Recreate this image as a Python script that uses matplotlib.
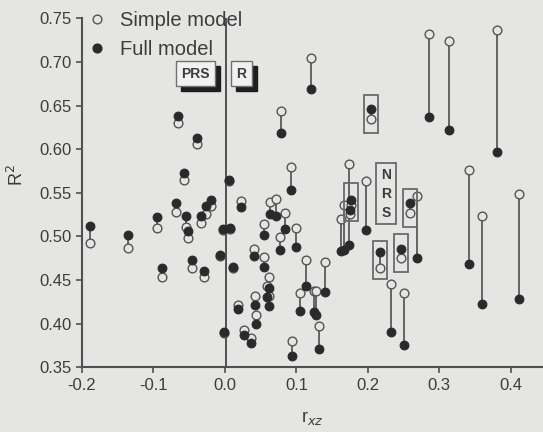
import matplotlib
matplotlib.use("Agg")
import matplotlib.pyplot as plt
from matplotlib.lines import Line2D
from matplotlib.patches import Rectangle

# data: r_xz, R^2 of simple model, R^2 of full model
r_xz = [-0.189, -0.135, -0.095, -0.088, -0.069, -0.066, -0.057, -0.054, -0.051, -0.046,
        -0.039, -0.033, -0.029, -0.027, -0.020, -0.007, -0.003, -0.002, 0.005, 0.007,
        0.011, 0.018, 0.023, 0.026, 0.036, 0.040, 0.042, 0.044, 0.054, 0.055,
        0.061, 0.059, 0.061, 0.063, 0.071, 0.077, 0.078, 0.084, 0.092, 0.094,
        0.100, 0.105, 0.114, 0.121, 0.124, 0.127, 0.131, 0.140, 0.163, 0.166,
        0.173, 0.176, 0.175, 0.197, 0.204, 0.217, 0.232, 0.246, 0.251, 0.259,
        0.269, 0.285, 0.313, 0.341, 0.360, 0.381, 0.411]
r2_simple = [0.493, 0.487, 0.510, 0.454, 0.528, 0.630, 0.565, 0.511, 0.498, 0.464,
             0.606, 0.515, 0.453, 0.526, 0.535, 0.478, 0.507, 0.389, 0.564, 0.509,
             0.464, 0.421, 0.541, 0.393, 0.384, 0.486, 0.432, 0.410, 0.514, 0.476,
             0.453, 0.443, 0.432, 0.539, 0.543, 0.499, 0.644, 0.527, 0.579, 0.380,
             0.510, 0.435, 0.473, 0.704, 0.438, 0.437, 0.397, 0.471, 0.520, 0.536,
             0.583, 0.536, 0.526, 0.563, 0.635, 0.464, 0.445, 0.475, 0.435, 0.527,
             0.546, 0.732, 0.724, 0.576, 0.523, 0.737, 0.549]
r2_full = [0.512, 0.502, 0.522, 0.464, 0.538, 0.638, 0.573, 0.523, 0.506, 0.473,
           0.613, 0.523, 0.460, 0.535, 0.542, 0.479, 0.508, 0.390, 0.565, 0.510,
           0.465, 0.417, 0.534, 0.387, 0.378, 0.477, 0.421, 0.400, 0.502, 0.465,
           0.441, 0.431, 0.420, 0.526, 0.523, 0.484, 0.619, 0.508, 0.553, 0.363,
           0.488, 0.414, 0.443, 0.669, 0.413, 0.410, 0.371, 0.436, 0.483, 0.484,
           0.490, 0.542, 0.530, 0.507, 0.646, 0.482, 0.391, 0.486, 0.375, 0.538,
           0.475, 0.637, 0.622, 0.468, 0.423, 0.597, 0.428]

# pairs marked with a rectangle
boxed_x = [0.176, 0.204, 0.217, 0.246, 0.259]

x_ticks = [-0.2, -0.1, 0.0, 0.1, 0.2, 0.3, 0.4]
y_ticks = [0.35, 0.40, 0.45, 0.50, 0.55, 0.60, 0.65, 0.70, 0.75]

bg = "#e5e5e3"
ink = "#3c3c3c"
plt.rcParams["font.family"] = ["Liberation Sans", "DejaVu Sans"]

fig = plt.figure(figsize=(5.43, 4.32), dpi=100, facecolor=bg)
ax = fig.add_axes([0.151, 0.1498, 0.849, 0.8079], facecolor=bg)

# connecting lines, then open, then filled circles
for x, s, f in zip(r_xz, r2_simple, r2_full):
    ax.plot([x, x], [s, f], color="#5a5a5a", lw=1.3, zorder=2)
ax.plot(r_xz, r2_simple, "o", ms=6.3, mfc=bg, mec="#555555", mew=1.0, ls="none", zorder=3)
ax.plot(r_xz, r2_full, "o", ms=6.3, mfc="#2a2a2a", mec="#2a2a2a", mew=0.8, ls="none", zorder=4)

# rectangles around selected pairs
bw, bh = 0.0196, 0.0435
for x, s, f in zip(r_xz, r2_simple, r2_full):
    if x in boxed_x:
        cy = (s + f) / 2
        ax.add_patch(Rectangle((x - bw / 2, cy - bh / 2), bw, bh, fill=False,
                               ec="#6a6a6a", lw=1.3, zorder=5))

# vertical line at r_xz = 0
ax.axvline(0.002, color="#505050", lw=1.4, zorder=1)

ax.set_xlim(-0.2, 0.445)
ax.set_ylim(0.35, 0.75)

# labels with a drop shadow (shadow drawn in data units, offset down-right)
sdx, sdy = 5 / 715, 5 / 872
labels = []
for txt, tx, ty in [("PRS", -0.041, 0.6865), ("R", 0.023, 0.6865)]:
    labels.append(ax.text(tx, ty, txt, ha="center", va="center", fontsize=10,
                          fontweight="bold", color=ink, zorder=7,
                          bbox=dict(boxstyle="square,pad=0.4", fc="#f1f1ef",
                                    ec="#707070", lw=1)))
fig.canvas.draw()
inv = ax.transData.inverted()
for t in labels:
    bb = t.get_bbox_patch().get_window_extent()
    (x0, y0), (x1, y1) = inv.transform([(bb.x0, bb.y0), (bb.x1, bb.y1)])
    ax.add_patch(Rectangle((x0 + sdx, y0 - sdy), x1 - x0, y1 - y0,
                           fc="#1e1e1e", ec="#1e1e1e", zorder=6.5))

ax.text(0.225, 0.549, "N\nR\nS", ha="center", va="center", fontsize=10,
        fontweight="bold", color=ink, linespacing=1.45, zorder=6,
        bbox=dict(boxstyle="square,pad=0.35", fc="none", ec="#6a6a6a", lw=1.3))

ax.set_xticks(x_ticks)
ax.set_xticklabels([f"{v:.1f}" for v in x_ticks])
ax.set_yticks(y_ticks)
ax.set_yticklabels([f"{v:.2f}" for v in y_ticks])
ax.tick_params(direction="out", length=4.5, width=1.2, color="#505050",
               labelsize=12, labelcolor=ink, pad=3)
for side in ["top", "right"]:
    ax.spines[side].set_visible(False)
for side in ["left", "bottom"]:
    ax.spines[side].set_color("#505050")
    ax.spines[side].set_linewidth(1.5)

ax.set_xlabel("r$_{xz}$", fontsize=13, color=ink, labelpad=12)
ax.set_ylabel("R$^2$", fontsize=13, color=ink)
ax.yaxis.set_label_coords(-0.12, 0.55)

handles = [Line2D([], [], marker="o", ls="none", ms=6.3, mfc=bg, mec="#555555", mew=1.0),
           Line2D([], [], marker="o", ls="none", ms=6.3, mfc="#2a2a2a", mec="#2a2a2a")]
ax.legend(handles, ["Simple model", "Full model"], loc="upper left",
          bbox_to_anchor=(-0.028, 1.045), frameon=False, fontsize=14.5,
          handletextpad=0.15, labelspacing=0.5, labelcolor=ink, borderaxespad=0.0)

fig.savefig("out.png", dpi=100, facecolor=bg)
